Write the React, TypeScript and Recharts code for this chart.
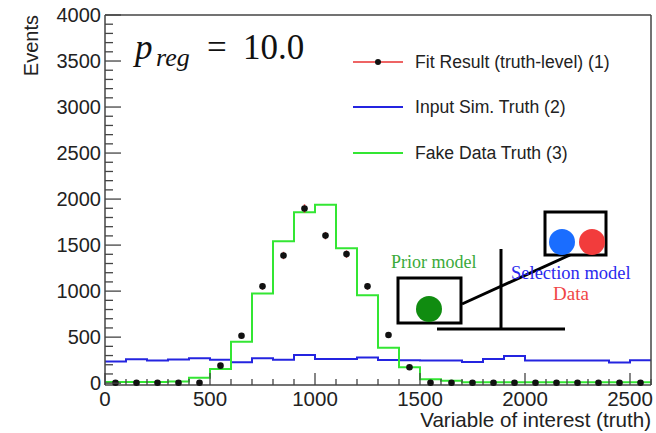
import { ComposedChart, Line, Scatter, ErrorBar, XAxis, YAxis } from "recharts";

// bin edges of the histogram (width 100), last edge closes the final bin
const binEdges = [0, 100, 200, 300, 400, 500, 600, 700, 800, 900, 1000, 1100, 1200, 1300, 1400, 1500, 1600, 1700, 1800, 1900, 2000, 2100, 2200, 2300, 2400, 2500, 2600];
const binCenters = [50, 150, 250, 350, 450, 550, 650, 750, 850, 950, 1050, 1150, 1250, 1350, 1450, 1550, 1650, 1750, 1850, 1950, 2050, 2150, 2250, 2350, 2450, 2550];

const fakeDataTruth = [12, 12, 12, 18, 60, 155, 450, 973, 1543, 1856, 1938, 1465, 955, 386, 173, 43, 25, 10, 10, 10, 10, 10, 10, 10, 10, 10];
const inputSimTruth = [234, 260, 245, 258, 270, 255, 227, 270, 255, 306, 262, 262, 278, 252, 250, 245, 245, 230, 263, 295, 245, 245, 245, 245, 225, 250];
const fitResult = [5, 5, 5, 5, 5, 190, 515, 1052, 1387, 1898, 1603, 1402, 1052, 523, 173, 5, 5, 5, 5, 5, 5, 5, 5, 5, 5, 5];
const fitError = [10, 10, 10, 10, 10, 20, 30, 35, 40, 45, 40, 40, 35, 25, 15, 10, 10, 10, 25, 10, 10, 10, 10, 10, 10, 10];

const xMajorTicks = [0, 500, 1000, 1500, 2000, 2500];
const yMajorTicks = [0, 500, 1000, 1500, 2000, 2500, 3000, 3500, 4000];

const xTicks = binEdges;
const yTicks: number[] = [];
for (let v = 0; v <= 4000; v += 100) yTicks.push(v);

const histRows = binEdges.map((x, i) => ({
  x,
  green: fakeDataTruth[Math.min(i, fakeDataTruth.length - 1)],
  blue: inputSimTruth[Math.min(i, inputSimTruth.length - 1)],
}));
const fitRows = binCenters.map((x, i) => ({ x, fit: fitResult[i], err: fitError[i] }));

const FRAME = "#444";
const TEXT = "#222";
const SANS = "'Liberation Sans', Arial, sans-serif";
const SERIF = "'Liberation Serif', 'Times New Roman', serif";

const LeftTick = (props: any) => {
  const { x, y, payload } = props;
  const major = yMajorTicks.includes(payload.value);
  return (
    <g>
      <line x1={x} y1={y} x2={x + (major ? 16 : 8)} y2={y} stroke={FRAME} strokeWidth={1.3} />
      {major && (
        <text x={x - 4} y={y} dy={7} textAnchor="end" fontSize={20} fill={TEXT} fontFamily={SANS}>
          {payload.value}
        </text>
      )}
    </g>
  );
};

const RightTick = (props: any) => {
  const { x, y, payload } = props;
  const major = yMajorTicks.includes(payload.value);
  return <line x1={x} y1={y} x2={x - (major ? 16 : 8)} y2={y} stroke={FRAME} strokeWidth={1.3} />;
};

const BottomTick = (props: any) => {
  const { x, y, payload } = props;
  const major = xMajorTicks.includes(payload.value);
  return (
    <g>
      <line x1={x} y1={y} x2={x} y2={y - (major ? 12 : 6)} stroke={FRAME} strokeWidth={1.3} />
      {major && (
        <text x={x} y={y + 21} textAnchor="middle" fontSize={20.5} fill={TEXT} fontFamily={SANS}>
          {payload.value}
        </text>
      )}
    </g>
  );
};

const TopTick = (props: any) => {
  const { x, y, payload } = props;
  const major = xMajorTicks.includes(payload.value);
  return <line x1={x} y1={y} x2={x} y2={y + (major ? 12 : 6)} stroke={FRAME} strokeWidth={1.3} />;
};

const Dot = (props: any) => <circle cx={props.cx} cy={props.cy} r={3.3} fill="#111" />;

export default function App() {
  return (
    <div style={{ position: "absolute", left: 0, top: 0, width: 656, height: 433, background: "#fff" }}>
      <ComposedChart width={656} height={433} margin={{ top: 14, right: 4, bottom: 47, left: 104 }}>
        <XAxis
          xAxisId="b"
          dataKey="x"
          type="number"
          domain={[0, 2600]}
          ticks={xTicks}
          interval={0}
          height={1}
          tickSize={0}
          tickMargin={0}
          tick={<BottomTick />}
          axisLine={{ stroke: FRAME, strokeWidth: 1.5 }}
          tickLine={false}
        />
        <XAxis
          xAxisId="t"
          orientation="top"
          dataKey="x"
          type="number"
          domain={[0, 2600]}
          ticks={xTicks}
          interval={0}
          height={1}
          tickSize={0}
          tickMargin={0}
          tick={<TopTick />}
          axisLine={{ stroke: FRAME, strokeWidth: 1.5 }}
          tickLine={false}
        />
        <YAxis
          yAxisId="l"
          type="number"
          domain={[0, 4000]}
          ticks={yTicks}
          interval={0}
          width={1}
          tickSize={0}
          tickMargin={0}
          tick={<LeftTick />}
          axisLine={{ stroke: FRAME, strokeWidth: 1.5 }}
          tickLine={false}
        />
        <YAxis
          yAxisId="r"
          orientation="right"
          type="number"
          domain={[0, 4000]}
          ticks={yTicks}
          interval={0}
          width={1}
          tickSize={0}
          tickMargin={0}
          tick={<RightTick />}
          axisLine={{ stroke: FRAME, strokeWidth: 1.5 }}
          tickLine={false}
        />
        <Line
          xAxisId="b"
          yAxisId="l"
          data={histRows}
          dataKey="blue"
          type="stepAfter"
          stroke="#2424e0"
          strokeWidth={2}
          dot={false}
          isAnimationActive={false}
        />
        <Line
          xAxisId="b"
          yAxisId="l"
          data={histRows}
          dataKey="green"
          type="stepAfter"
          stroke="#33e633"
          strokeWidth={2}
          dot={false}
          isAnimationActive={false}
        />
        <Scatter
          xAxisId="b"
          yAxisId="l"
          data={fitRows}
          dataKey="fit"
          shape={<Dot />}
          isAnimationActive={false}
        >
          <ErrorBar dataKey="err" direction="y" stroke="#e83030" strokeWidth={1.5} width={0} />
        </Scatter>
      </ComposedChart>

      <svg width={656} height={433} style={{ position: "absolute", left: 0, top: 0, pointerEvents: "none" }}>
        {/* axis titles */}
        <text x={38} y={15} transform="rotate(-90 38 15)" textAnchor="end" fontSize={20} fill={TEXT} fontFamily={SANS}>
          Events
        </text>
        <text x={651} y={427} textAnchor="end" fontSize={20.6} fill={TEXT} fontFamily={SANS}>
          Variable of interest (truth)
        </text>

        {/* regularisation label */}
        <text fontFamily={SERIF} fill="#111">
          <tspan x={135} y={59} fontSize={35} fontStyle="italic">p</tspan>
          <tspan x={156} y={66} fontSize={26} fontStyle="italic">reg</tspan>
          <tspan x={207} y={59} fontSize={35}>=</tspan>
          <tspan x={243} y={59} fontSize={35}>10.0</tspan>
        </text>

        {/* legend */}
        <line x1={353} y1={62} x2={403} y2={62} stroke="#e83030" strokeWidth={1.5} />
        <circle cx={378} cy={62} r={3} fill="#111" />
        <text x={415} y={62} dy={6} fontSize={17.6} fill={TEXT} fontFamily={SANS}>Fit Result (truth-level) (1)</text>
        <line x1={353} y1={107} x2={403} y2={107} stroke="#2424e0" strokeWidth={2} />
        <text x={415} y={107} dy={6} fontSize={17.6} fill={TEXT} fontFamily={SANS}>Input Sim. Truth (2)</text>
        <line x1={353} y1={153} x2={403} y2={153} stroke="#33e633" strokeWidth={2} />
        <text x={415} y={153} dy={6} fontSize={17.6} fill={TEXT} fontFamily={SANS}>Fake Data Truth (3)</text>

        {/* model diagram overlay */}
        <rect x={398} y={278} width={63} height={45} fill="none" stroke="#000" strokeWidth={3} />
        <circle cx={429} cy={309} r={13} fill="#108c10" />
        <rect x={545} y={212} width={61} height={43} fill="none" stroke="#000" strokeWidth={3} />
        <circle cx={562} cy={242} r={13} fill="#1a6dff" />
        <circle cx={592} cy={242} r={13} fill="#f23c3c" />
        <line x1={462} y1={304} x2={570} y2={255} stroke="#000" strokeWidth={3} />
        <line x1={501} y1={249} x2={501} y2={329} stroke="#000" strokeWidth={3} />
        <line x1={437} y1={329} x2={565} y2={329} stroke="#000" strokeWidth={3} />
        <text x={391} y={268} fontSize={18} fill="#3aaa3a" fontFamily={SERIF}>Prior model</text>
        <text x={511} y={279} fontSize={18.5} fill="#2a2aee" fontFamily={SERIF}>Selection model</text>
        <text x={553} y={300} fontSize={19} fill="#f04646" fontFamily={SERIF}>Data</text>
      </svg>
    </div>
  );
}
